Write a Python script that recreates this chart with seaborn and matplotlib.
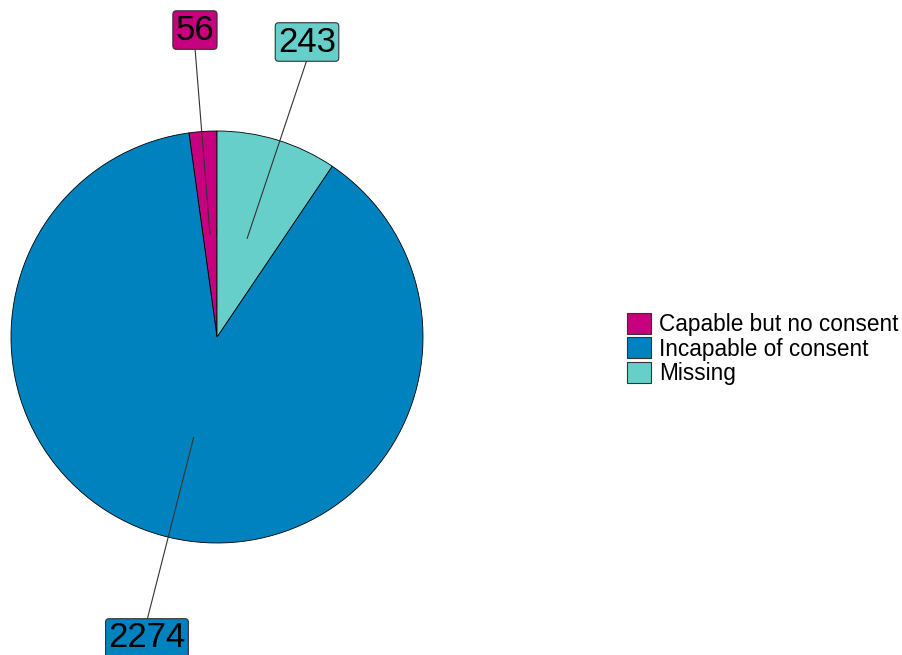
import numpy as np
import matplotlib
matplotlib.use("Agg")
import matplotlib.pyplot as plt
import matplotlib.patches as mpatches
import seaborn as sns

# data
categories = ["Capable but no consent", "Incapable of consent", "Missing"]
counts = [56, 2274, 243]
colors = ["#C6007E", "#0082BE", "#66CFCA"]

# label box positions (data units, pie radius = 1)
label_pos = [(-0.107, 1.49), (-0.340, -1.461), (0.437, 1.432)]

sns.set_theme(style="white")
plt.rcParams["font.family"] = ["Liberation Sans", "DejaVu Sans"]
plt.rcParams["text.color"] = "black"

W, H = 903, 655
cx, cy, R = 217, 337, 206
fig = plt.figure(figsize=(W / 100, H / 100), dpi=100)
ax = fig.add_axes([0, 0, 1, 1])

wedges, _ = ax.pie(counts, colors=colors, startangle=90, counterclock=True,
                   radius=1, center=(0, 0), frame=True,
                   wedgeprops=dict(edgecolor="black", linewidth=0.6))
ax.set_xlim(-cx / R, (W - cx) / R)
ax.set_ylim((cy - H) / R, cy / R)
ax.set_aspect("auto")
ax.axis("off")

for w, n, col, (lx, ly) in zip(wedges, counts, colors, label_pos):
    mid = np.deg2rad((w.theta1 + w.theta2) / 2)
    sx, sy = 0.5 * np.cos(mid), 0.5 * np.sin(mid)
    ey = ly - 0.085 if ly > 0 else ly + 0.085
    ax.plot([sx, lx], [sy, ey], color="#333333", lw=0.8, zorder=3)
    ax.text(lx, ly, str(n), fontsize=25, ha="center", va="center", color="black",
            zorder=4,
            bbox=dict(boxstyle="round,pad=0.08,rounding_size=0.1", facecolor=col,
                      edgecolor="#333333", linewidth=0.8))

handles = [mpatches.Patch(facecolor=c, edgecolor="#333333", linewidth=0.8, label=l)
           for c, l in zip(colors, categories)]
leg = fig.legend(handles=handles, loc="upper left", bbox_to_anchor=(611 / W, 1 - 297 / H),
                 frameon=False, fontsize=16.3, handlelength=1.06, handleheight=1.06,
                 labelspacing=0.05, handletextpad=0.35, borderpad=0.2)
for t in leg.get_texts():
    t.set_color("black")

fig.savefig("out.png", dpi=100)
